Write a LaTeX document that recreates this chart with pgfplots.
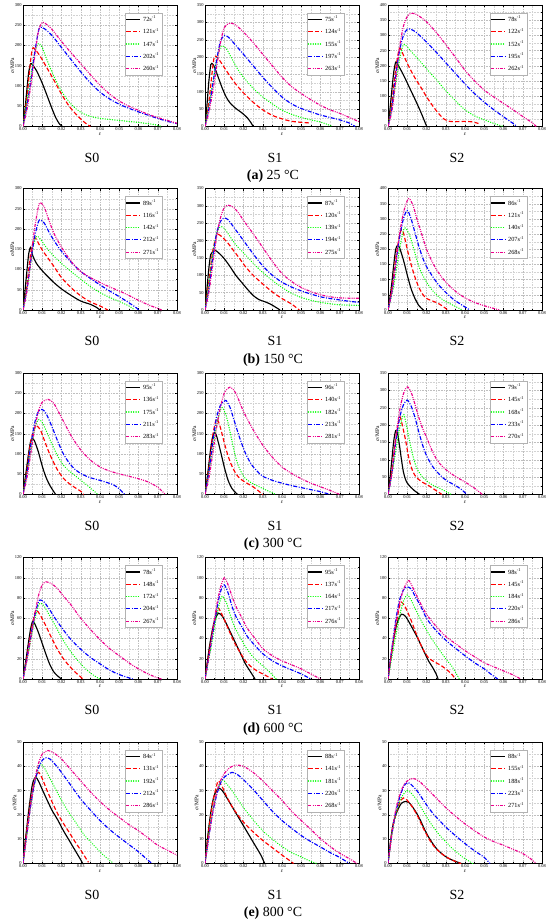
\documentclass[border=0pt]{standalone}
\usepackage{fontspec}
\setmainfont{Liberation Serif}
\usepackage{pgfplots}
\pgfplotsset{compat=1.18}
\pgfplotsset{
 c1/.style={color=black, solid, line width=1.15bp},
 c2/.style={color=red, line width=1.15bp, dash pattern=on 4.2bp off 2.3bp},
 c3/.style={color=green, line width=1.45bp, line cap=round, dash pattern=on 0.01bp off 2.4bp},
 c4/.style={color=blue, line width=1.15bp, dash pattern=on 4bp off 1.5bp on 1bp off 1.5bp},
 c5/.style={color=magenta, line width=1.15bp, dash pattern=on 3bp off 1.2bp on 0.9bp off 1.2bp on 0.9bp off 1.2bp},
 panel/.style={
  scale only axis, width=154bp, height=121.5bp, anchor=north west,
  xmin=0, xmax=0.08, ymin=0, xtick distance=0.01, minor tick num=1,
  scaled x ticks=false, scaled y ticks=false,
  x tick label style={/pgf/number format/.cd, fixed, fixed zerofill, precision=2, /tikz/.cd},
  /pgf/number format/assume math mode=true,
  tick label style={font=\fontsize{4.5}{5}\selectfont, inner sep=1.2bp},
  tick align=inside, major tick length=2bp, minor tick length=1.2bp,
  every tick/.style={black, line width=0.3bp},
  grid=both,
  major grid style={gray!50, line width=0.3bp, dash pattern=on 0.8bp off 0.8bp},
  minor grid style={gray!35, line width=0.25bp, dash pattern=on 0.8bp off 0.8bp},
  axis line style={line width=0.5bp},
  xlabel={\textit{ε}}, ylabel={\textit{σ}/MPa},
  label style={font=\fontsize{5.5}{6}\selectfont},
  xlabel style={inner sep=0.5bp},
  ylabel style={yshift=-4bp},
  legend style={at={(0.905,0.935)}, anchor=north east, draw=gray!60,
    font=\fontsize{6.3}{7}\selectfont, inner sep=1bp, row sep=1.4bp},
  legend cell align=left,
  legend image code/.code={\draw[##1, draw=.] (0bp,0bp) -- (14bp,0bp);},
  every axis plot/.append style={smooth, tension=0.45},
 },
}
\newcommand{\leg}[5]{\legend{#1s\textsuperscript{-1},#2s\textsuperscript{-1},#3s\textsuperscript{-1},#4s\textsuperscript{-1},#5s\textsuperscript{-1}}}
\begin{document}
\begin{tikzpicture}
\path[use as bounding box] (0,0) rectangle (550bp,-921bp);
%================ ROW 1 : 25 C =================
\begin{axis}[panel, at={(23bp,-5bp)}, ymax=300, ytick distance=50]
\addplot[c1] coordinates {(0,0)(0.001,40)(0.002,90)(0.003,135)(0.004,155)(0.005,152)(0.007,138)(0.009,118)(0.011,95)(0.013,70)(0.015,45)(0.017,22)(0.019,6)(0.0205,0)};
\addplot[c2] coordinates {(0,0)(0.002,70)(0.004,165)(0.005,193)(0.006,192)(0.008,180)(0.010,165)(0.013,140)(0.016,115)(0.020,80)(0.024,50)(0.028,28)(0.032,10)(0.035,0)};
\addplot[c3] coordinates {(0,0)(0.003,90)(0.006,180)(0.008,205)(0.010,195)(0.012,170)(0.015,135)(0.018,105)(0.021,80)(0.025,55)(0.030,35)(0.035,25)(0.040,20)(0.050,15)(0.060,10)(0.068,5)(0.072,0)};
\addplot[c4] coordinates {(0,0)(0.002,50)(0.004,110)(0.006,180)(0.008,235)(0.009,245)(0.011,242)(0.015,225)(0.020,195)(0.025,165)(0.030,135)(0.035,108)(0.040,85)(0.045,68)(0.050,55)(0.055,45)(0.060,36)(0.065,28)(0.070,20)(0.075,13)(0.080,7)};
\addplot[c5] coordinates {(0,0)(0.002,40)(0.004,100)(0.006,170)(0.008,235)(0.010,257)(0.012,253)(0.015,240)(0.020,210)(0.025,182)(0.030,155)(0.035,128)(0.040,102)(0.045,80)(0.050,63)(0.055,50)(0.060,40)(0.065,30)(0.070,22)(0.075,15)(0.080,8)};
\leg{72}{121}{147}{202}{260}
\end{axis}
\begin{axis}[panel, at={(205bp,-5bp)}, ymax=350, ytick distance=50]
\addplot[c1] coordinates {(0,0)(0.001,60)(0.002,130)(0.003,178)(0.004,180)(0.005,170)(0.007,140)(0.009,110)(0.011,85)(0.013,68)(0.016,52)(0.019,40)(0.022,25)(0.024,10)(0.025,0)};
\addplot[c2] coordinates {(0,0)(0.002,70)(0.004,170)(0.005,203)(0.007,195)(0.010,170)(0.013,145)(0.016,122)(0.020,97)(0.025,70)(0.030,48)(0.035,32)(0.040,22)(0.045,15)(0.050,12)(0.055,10)};
\addplot[c3] coordinates {(0,0)(0.003,90)(0.006,190)(0.008,228)(0.009,232)(0.011,225)(0.014,195)(0.017,165)(0.020,142)(0.025,110)(0.030,85)(0.035,65)(0.040,47)(0.045,35)(0.050,26)(0.055,19)(0.060,13)(0.065,3)(0.066,0)};
\addplot[c4] coordinates {(0,0)(0.002,50)(0.004,120)(0.006,190)(0.008,245)(0.010,262)(0.012,258)(0.015,240)(0.020,208)(0.025,175)(0.030,142)(0.035,112)(0.040,85)(0.045,65)(0.050,52)(0.055,42)(0.060,33)(0.065,26)(0.070,19)(0.075,10)(0.078,0)};
\addplot[c5] coordinates {(0,0)(0.002,40)(0.004,100)(0.006,170)(0.008,240)(0.010,285)(0.013,298)(0.016,292)(0.020,272)(0.025,242)(0.030,208)(0.035,175)(0.040,142)(0.045,115)(0.050,95)(0.055,77)(0.060,61)(0.065,48)(0.070,38)(0.075,26)(0.080,14)};
\leg{75}{124}{155}{197}{263}
\end{axis}
\begin{axis}[panel, at={(388bp,-5bp)}, ymax=400, ytick distance=50]
\addplot[c1] coordinates {(0,0)(0.001,55)(0.002,120)(0.003,180)(0.004,212)(0.005,205)(0.008,170)(0.011,130)(0.014,90)(0.017,48)(0.020,2)(0.0202,0)};
\addplot[c2] coordinates {(0,0)(0.002,80)(0.004,190)(0.006,258)(0.008,235)(0.011,195)(0.014,160)(0.017,130)(0.020,98)(0.023,70)(0.026,45)(0.029,25)(0.032,17)(0.036,16)(0.040,17)(0.044,15)(0.047,10)};
\addplot[c3] coordinates {(0,0)(0.003,100)(0.006,220)(0.008,270)(0.010,262)(0.013,240)(0.016,220)(0.020,190)(0.025,155)(0.030,118)(0.035,85)(0.040,55)(0.045,35)(0.050,22)(0.055,10)(0.060,0)};
\addplot[c4] coordinates {(0,0)(0.002,60)(0.004,170)(0.006,250)(0.008,300)(0.010,320)(0.012,320)(0.015,308)(0.020,278)(0.025,245)(0.030,210)(0.035,175)(0.040,140)(0.045,108)(0.050,80)(0.055,55)(0.060,32)(0.065,10)(0.067,0)};
\addplot[c5] coordinates {(0,0)(0.002,50)(0.004,150)(0.006,260)(0.008,330)(0.010,362)(0.012,373)(0.015,368)(0.020,345)(0.025,310)(0.030,270)(0.035,228)(0.040,185)(0.045,150)(0.050,120)(0.055,97)(0.060,76)(0.065,55)(0.070,33)(0.075,12)(0.077,0)};
\leg{78}{122}{152}{195}{262}
\end{axis}
%================ ROW 2 : 150 C =================
\begin{axis}[panel, at={(23bp,-188.5bp)}, ymax=300, ytick distance=50]
\addplot[c1] coordinates {(0,0)(0.001,45)(0.002,95)(0.003,140)(0.004,155)(0.005,135)(0.007,115)(0.010,97)(0.013,82)(0.016,68)(0.020,52)(0.025,36)(0.030,22)(0.035,14)(0.038,7)(0.040,0)};
\addplot[c2] coordinates {(0,0)(0.002,60)(0.004,140)(0.006,178)(0.008,165)(0.010,148)(0.013,128)(0.016,108)(0.020,80)(0.025,55)(0.030,35)(0.035,20)(0.040,10)(0.044,0)};
\addplot[c3] coordinates {(0,0)(0.003,80)(0.005,150)(0.007,182)(0.009,175)(0.012,155)(0.015,138)(0.020,115)(0.025,95)(0.030,76)(0.035,58)(0.040,43)(0.045,31)(0.050,21)(0.055,10)(0.058,0)};
\addplot[c4] coordinates {(0,0)(0.002,50)(0.004,120)(0.006,180)(0.008,218)(0.009,222)(0.011,215)(0.014,188)(0.017,165)(0.020,145)(0.025,118)(0.030,95)(0.035,78)(0.040,62)(0.045,47)(0.050,33)(0.055,18)(0.059,5)(0.060,0)};
\addplot[c5] coordinates {(0,0)(0.002,45)(0.004,120)(0.006,200)(0.008,255)(0.009,265)(0.011,255)(0.013,228)(0.016,190)(0.020,155)(0.025,120)(0.030,95)(0.035,80)(0.040,68)(0.045,57)(0.050,47)(0.055,36)(0.060,24)(0.065,13)(0.070,4)(0.072,0)};
\leg{89}{116}{142}{212}{271}
\end{axis}
\begin{axis}[panel, at={(205bp,-188.5bp)}, ymax=350, ytick distance=50]
\addplot[c1] coordinates {(0,0)(0.001,60)(0.002,120)(0.003,160)(0.005,172)(0.007,165)(0.010,148)(0.013,125)(0.016,100)(0.019,80)(0.022,60)(0.025,42)(0.028,30)(0.031,24)(0.034,17)(0.037,7)(0.039,0)};
\addplot[c2] coordinates {(0,0)(0.002,80)(0.004,170)(0.006,215)(0.007,218)(0.009,210)(0.012,192)(0.015,170)(0.018,148)(0.021,125)(0.025,100)(0.030,75)(0.035,52)(0.040,33)(0.045,17)(0.049,0)};
\addplot[c3] coordinates {(0,0)(0.002,70)(0.004,160)(0.006,220)(0.008,240)(0.010,235)(0.013,212)(0.016,188)(0.020,165)(0.025,135)(0.030,108)(0.035,85)(0.040,65)(0.045,48)(0.050,36)(0.055,28)(0.060,22)(0.065,18)(0.070,15)(0.075,14)(0.080,13)};
\addplot[c4] coordinates {(0,0)(0.002,60)(0.004,150)(0.006,220)(0.008,255)(0.010,265)(0.012,260)(0.015,238)(0.020,200)(0.025,162)(0.030,127)(0.035,100)(0.040,80)(0.045,66)(0.050,55)(0.055,46)(0.060,38)(0.065,33)(0.070,29)(0.075,25)(0.080,22)};
\addplot[c5] coordinates {(0,0)(0.002,50)(0.004,130)(0.006,210)(0.008,265)(0.010,295)(0.012,302)(0.015,295)(0.018,275)(0.020,258)(0.025,220)(0.030,180)(0.035,140)(0.040,105)(0.045,82)(0.050,65)(0.055,53)(0.060,44)(0.065,38)(0.070,35)(0.075,34)(0.080,34)};
\leg{87}{120}{139}{194}{275}
\end{axis}
\begin{axis}[panel, at={(388bp,-188.5bp)}, ymax=400, ytick distance=50]
\addplot[c1] coordinates {(0,0)(0.001,40)(0.002,90)(0.003,150)(0.004,200)(0.005,213)(0.006,205)(0.008,165)(0.010,115)(0.012,70)(0.014,38)(0.016,15)(0.018,2)(0.0185,0)};
\addplot[c2] coordinates {(0,0)(0.002,70)(0.004,170)(0.006,245)(0.007,265)(0.008,255)(0.010,200)(0.012,150)(0.014,108)(0.016,75)(0.018,52)(0.020,38)(0.023,30)(0.026,22)(0.029,10)(0.031,0)};
\addplot[c3] coordinates {(0,0)(0.003,80)(0.006,200)(0.008,262)(0.009,270)(0.011,250)(0.013,210)(0.015,165)(0.017,128)(0.020,92)(0.023,65)(0.026,45)(0.030,28)(0.034,15)(0.038,2)(0.039,0)};
\addplot[c4] coordinates {(0,0)(0.002,60)(0.004,150)(0.006,240)(0.008,300)(0.010,328)(0.012,300)(0.014,255)(0.016,210)(0.018,172)(0.020,143)(0.023,112)(0.026,85)(0.030,58)(0.034,35)(0.038,18)(0.042,2)(0.0425,0)};
\addplot[c5] coordinates {(0,0)(0.002,60)(0.004,150)(0.006,250)(0.008,320)(0.010,360)(0.011,367)(0.013,345)(0.015,300)(0.018,240)(0.020,200)(0.023,158)(0.026,125)(0.030,92)(0.035,62)(0.040,40)(0.045,25)(0.050,14)(0.055,5)(0.058,0)};
\leg{86}{121}{140}{207}{268}
\end{axis}
%================ ROW 3 : 300 C =================
\begin{axis}[panel, at={(23bp,-373bp)}, ymax=300, ytick distance=50]
\addplot[c1] coordinates {(0,0)(0.001,35)(0.002,70)(0.003,105)(0.004,132)(0.005,138)(0.006,132)(0.008,105)(0.010,70)(0.012,42)(0.014,22)(0.016,7)(0.017,0)};
\addplot[c2] coordinates {(0,0)(0.002,60)(0.004,130)(0.006,165)(0.007,170)(0.009,160)(0.011,135)(0.013,110)(0.015,88)(0.018,60)(0.021,40)(0.024,27)(0.027,17)(0.030,8)(0.0315,0)};
\addplot[c3] coordinates {(0,0)(0.003,80)(0.006,160)(0.008,185)(0.010,178)(0.012,158)(0.015,125)(0.018,95)(0.021,72)(0.024,58)(0.027,47)(0.030,35)(0.033,24)(0.036,12)(0.039,0)};
\addplot[c4] coordinates {(0,0)(0.002,50)(0.004,120)(0.006,175)(0.008,205)(0.010,210)(0.012,200)(0.015,168)(0.018,132)(0.021,100)(0.024,78)(0.027,62)(0.030,52)(0.033,45)(0.036,40)(0.040,35)(0.044,29)(0.047,24)(0.050,14)(0.052,4)(0.053,0)};
\addplot[c5] coordinates {(0,0)(0.002,40)(0.004,100)(0.006,160)(0.008,205)(0.010,228)(0.013,235)(0.016,225)(0.020,190)(0.025,145)(0.030,110)(0.035,85)(0.040,68)(0.045,58)(0.050,51)(0.055,45)(0.060,39)(0.065,31)(0.070,18)(0.074,0)};
\leg{95}{136}{175}{211}{283}
\end{axis}
\begin{axis}[panel, at={(205bp,-373bp)}, ymax=300, ytick distance=50]
\addplot[c1] coordinates {(0,0)(0.001,35)(0.002,75)(0.003,115)(0.004,143)(0.005,153)(0.006,145)(0.008,108)(0.010,68)(0.012,35)(0.014,15)(0.016,4)(0.017,0)};
\addplot[c2] coordinates {(0,0)(0.002,65)(0.004,145)(0.006,187)(0.008,165)(0.010,128)(0.012,95)(0.014,70)(0.016,52)(0.018,40)(0.021,30)(0.024,22)(0.027,12)(0.030,0)};
\addplot[c3] coordinates {(0,0)(0.003,85)(0.006,170)(0.008,208)(0.009,215)(0.011,195)(0.013,155)(0.015,110)(0.017,75)(0.020,45)(0.023,32)(0.026,24)(0.030,15)(0.034,6)(0.037,0)};
\addplot[c4] coordinates {(0,0)(0.002,55)(0.004,130)(0.006,190)(0.008,220)(0.010,230)(0.011,232)(0.013,215)(0.015,185)(0.018,140)(0.021,102)(0.024,75)(0.027,58)(0.030,45)(0.035,35)(0.040,28)(0.045,22)(0.050,17)(0.055,12)(0.060,7)(0.065,0)};
\addplot[c5] coordinates {(0,0)(0.002,40)(0.004,100)(0.006,165)(0.008,215)(0.010,250)(0.013,265)(0.016,250)(0.020,205)(0.025,160)(0.030,122)(0.035,92)(0.040,68)(0.045,52)(0.050,39)(0.055,28)(0.060,19)(0.065,10)(0.070,0)};
\leg{96}{140}{182}{213}{281}
\end{axis}
\begin{axis}[panel, at={(388bp,-373bp)}, ymax=350, ytick distance=50]
\addplot[c1] coordinates {(0,0)(0.001,45)(0.002,100)(0.003,155)(0.004,184)(0.005,175)(0.006,140)(0.007,100)(0.008,65)(0.009,45)(0.010,33)(0.012,20)(0.014,10)(0.016,2)(0.0165,0)};
\addplot[c2] coordinates {(0,0)(0.002,70)(0.004,160)(0.006,222)(0.007,210)(0.009,160)(0.011,100)(0.013,65)(0.015,48)(0.018,35)(0.021,26)(0.024,15)(0.027,4)(0.028,0)};
\addplot[c3] coordinates {(0,0)(0.003,90)(0.006,190)(0.008,230)(0.009,215)(0.011,160)(0.013,110)(0.015,75)(0.018,50)(0.021,35)(0.024,25)(0.027,17)(0.030,9)(0.033,0)};
\addplot[c4] coordinates {(0,0)(0.002,60)(0.004,150)(0.006,220)(0.008,258)(0.010,272)(0.012,255)(0.014,222)(0.016,180)(0.018,142)(0.020,112)(0.023,82)(0.026,62)(0.029,46)(0.032,35)(0.035,26)(0.038,15)(0.041,0)};
\addplot[c5] coordinates {(0,0)(0.002,60)(0.004,160)(0.006,240)(0.008,290)(0.010,310)(0.012,295)(0.014,260)(0.016,222)(0.018,190)(0.020,165)(0.023,125)(0.026,95)(0.030,72)(0.035,52)(0.040,36)(0.045,18)(0.049,0)};
\leg{79}{145}{168}{233}{270}
\end{axis}
%================ ROW 4 : 600 C =================
\begin{axis}[panel, at={(23bp,-557.5bp)}, ymax=120, ytick distance=20]
\addplot[c1] coordinates {(0,0)(0.001,12)(0.002,25)(0.003,38)(0.004,50)(0.005,57)(0.006,55)(0.008,46)(0.010,35)(0.012,24)(0.014,14)(0.016,7)(0.018,3)(0.020,0)};
\addplot[c2] coordinates {(0,0)(0.002,22)(0.004,45)(0.006,64)(0.007,68)(0.009,63)(0.012,52)(0.015,40)(0.018,29)(0.021,20)(0.024,13)(0.027,7)(0.030,2)(0.031,0)};
\addplot[c3] coordinates {(0,0)(0.003,28)(0.006,58)(0.008,72)(0.009,75)(0.011,72)(0.014,62)(0.017,52)(0.020,41)(0.023,32)(0.026,24)(0.029,17)(0.032,11)(0.035,6)(0.038,2)(0.040,0)};
\addplot[c4] coordinates {(0,0)(0.002,20)(0.004,42)(0.006,62)(0.008,76)(0.009,78)(0.011,76)(0.014,68)(0.017,59)(0.020,51)(0.024,41)(0.028,33)(0.032,26)(0.036,20)(0.040,15)(0.044,10)(0.048,6)(0.052,3)(0.057,0)};
\addplot[c5] coordinates {(0,0)(0.002,18)(0.004,40)(0.006,62)(0.008,82)(0.010,93)(0.012,96)(0.015,94)(0.018,89)(0.021,82)(0.025,73)(0.030,60)(0.035,49)(0.040,39)(0.045,30)(0.050,23)(0.055,16)(0.060,10)(0.065,5)(0.070,1)(0.072,0)};
\leg{78}{148}{172}{204}{267}
\end{axis}
\begin{axis}[panel, at={(205bp,-557.5bp)}, ymax=120, ytick distance=20]
\addplot[c1] coordinates {(0,0)(0.001,14)(0.002,28)(0.003,40)(0.004,50)(0.005,58)(0.007,65)(0.009,62)(0.011,55)(0.013,47)(0.015,39)(0.017,31)(0.019,23)(0.021,15)(0.023,9)(0.025,3)(0.026,0)};
\addplot[c2] coordinates {(0,0)(0.002,25)(0.004,48)(0.006,66)(0.007,70)(0.009,63)(0.012,50)(0.015,37)(0.018,27)(0.021,18)(0.024,12)(0.027,8)(0.030,5)(0.033,2)(0.035,0)};
\addplot[c3] coordinates {(0,0)(0.003,30)(0.006,62)(0.008,78)(0.009,82)(0.011,76)(0.013,64)(0.015,53)(0.018,42)(0.021,32)(0.024,24)(0.027,18)(0.030,13)(0.033,8)(0.036,2)(0.037,0)};
\addplot[c4] coordinates {(0,0)(0.002,22)(0.004,45)(0.006,68)(0.008,86)(0.010,93)(0.012,85)(0.014,72)(0.016,62)(0.019,52)(0.022,42)(0.026,33)(0.030,25)(0.035,18)(0.040,13)(0.045,9)(0.050,5)(0.055,0)};
\addplot[c5] coordinates {(0,0)(0.002,22)(0.004,48)(0.006,72)(0.008,90)(0.010,100)(0.012,93)(0.014,82)(0.016,72)(0.019,61)(0.022,50)(0.026,40)(0.030,30)(0.035,23)(0.040,18)(0.045,14)(0.050,10)(0.055,5)(0.060,0)};
\leg{95}{137}{164}{217}{276}
\end{axis}
\begin{axis}[panel, at={(388bp,-557.5bp)}, ymax=120, ytick distance=20]
\addplot[c1] coordinates {(0,0)(0.001,14)(0.002,28)(0.003,40)(0.004,50)(0.005,57)(0.007,64)(0.009,62)(0.011,56)(0.013,49)(0.015,42)(0.017,34)(0.019,26)(0.021,18)(0.023,12)(0.025,5)(0.026,0)};
\addplot[c2] coordinates {(0,0)(0.002,28)(0.004,52)(0.006,72)(0.007,76)(0.009,71)(0.012,58)(0.015,43)(0.018,30)(0.021,21)(0.024,17)(0.027,14)(0.030,10)(0.033,5)(0.035,0)};
\addplot[c3] coordinates {(0,0)(0.003,32)(0.006,62)(0.008,77)(0.010,83)(0.012,78)(0.015,66)(0.018,55)(0.021,45)(0.024,36)(0.027,28)(0.030,20)(0.033,13)(0.035,7)(0.037,0)};
\addplot[c4] coordinates {(0,0)(0.002,30)(0.004,58)(0.006,78)(0.008,88)(0.010,91)(0.012,89)(0.014,82)(0.017,72)(0.020,60)(0.024,50)(0.028,42)(0.032,35)(0.036,29)(0.040,23)(0.045,16)(0.050,10)(0.054,4)(0.057,0)};
\addplot[c5] coordinates {(0,0)(0.002,28)(0.004,55)(0.006,75)(0.008,88)(0.010,96)(0.011,97)(0.013,90)(0.016,78)(0.020,64)(0.025,52)(0.030,42)(0.035,35)(0.040,28)(0.045,22)(0.050,16)(0.055,12)(0.060,8)(0.065,4)(0.069,0)};
\leg{98}{145}{184}{220}{286}
\end{axis}
%================ ROW 5 : 800 C =================
\begin{axis}[panel, at={(23bp,-742bp)}, ymax=50, ytick distance=10]
\addplot[c1] coordinates {(0,0)(0.001,8)(0.002,15)(0.003,22)(0.004,28)(0.005,33)(0.0065,35.5)(0.008,34)(0.010,30.5)(0.012,27)(0.015,22)(0.018,18)(0.021,13.5)(0.024,9.5)(0.027,5.5)(0.030,1.5)(0.031,0)};
\addplot[c2] coordinates {(0,0)(0.002,14)(0.004,26)(0.006,34)(0.008,37.5)(0.010,35)(0.012,31)(0.015,25.5)(0.018,20.5)(0.021,16.5)(0.024,12.8)(0.027,9)(0.030,5.5)(0.032,3)(0.034,0.5)};
\addplot[c3] coordinates {(0,0)(0.002,12)(0.004,24)(0.006,33)(0.008,39.5)(0.009,41)(0.011,39.5)(0.014,35)(0.017,30.5)(0.020,26)(0.023,22)(0.026,18.5)(0.029,15)(0.032,11.5)(0.035,9)(0.038,6.5)(0.041,4)(0.044,2)(0.047,0)};
\addplot[c4] coordinates {(0,0)(0.002,12)(0.004,24)(0.006,33)(0.008,39)(0.010,42.5)(0.012,43.5)(0.014,43)(0.017,40.5)(0.020,37.5)(0.025,32)(0.030,26.5)(0.035,22)(0.040,17.7)(0.045,14)(0.050,10.8)(0.055,7.8)(0.060,4.8)(0.064,2)(0.067,0)};
\addplot[c5] coordinates {(0,0)(0.002,12)(0.004,24)(0.006,34)(0.008,41)(0.010,45)(0.013,46.5)(0.016,45.5)(0.020,43)(0.025,38.5)(0.030,34)(0.035,29.5)(0.040,25.5)(0.045,22)(0.050,19)(0.055,16)(0.060,13.5)(0.065,10.5)(0.070,7.5)(0.075,5.5)(0.080,3.4)};
\leg{84}{131}{192}{212}{286}
\end{axis}
\begin{axis}[panel, at={(205bp,-742bp)}, ymax=50, ytick distance=10]
\addplot[c1] coordinates {(0,0)(0.001,8)(0.002,15)(0.003,21)(0.004,25.5)(0.005,28.5)(0.007,31)(0.009,30)(0.011,27.5)(0.014,23.5)(0.017,19.5)(0.020,15.5)(0.023,11.5)(0.026,7.5)(0.029,3.5)(0.031,0)};
\addplot[c2] coordinates {(0,0)(0.002,14)(0.004,25)(0.006,32)(0.007,34)(0.009,31.5)(0.011,28)(0.014,23.5)(0.017,20)(0.020,17)(0.025,13)(0.030,9.5)(0.035,6.5)(0.040,3.5)(0.044,1.2)(0.046,0)};
\addplot[c3] coordinates {(0,0)(0.002,12)(0.004,22)(0.006,29)(0.008,33.5)(0.009,34.5)(0.011,33)(0.014,30)(0.017,26.5)(0.020,23)(0.025,18)(0.030,13.5)(0.035,10)(0.040,7)(0.045,4.5)(0.050,2.7)(0.054,1.2)(0.058,0)};
\addplot[c4] coordinates {(0,0)(0.002,11)(0.004,21)(0.006,28)(0.008,33)(0.010,35.5)(0.014,37.5)(0.017,36.5)(0.020,34.5)(0.025,30.5)(0.030,26)(0.035,21.5)(0.040,17.7)(0.045,14.5)(0.050,11.5)(0.055,9)(0.060,6.8)(0.065,4.5)(0.070,2.5)(0.075,0)};
\addplot[c5] coordinates {(0,0)(0.002,11)(0.004,21)(0.006,29)(0.008,34)(0.010,37)(0.013,39.5)(0.016,40.5)(0.020,40)(0.025,37.5)(0.030,34)(0.035,30)(0.040,26)(0.045,21.5)(0.050,17.7)(0.055,14)(0.060,10.2)(0.065,7)(0.070,4.2)(0.075,2)(0.079,0)};
\leg{88}{141}{181}{220}{268}
\end{axis}
\begin{axis}[panel, at={(388bp,-742bp)}, ymax=50, ytick distance=10]
\addplot[c1] coordinates {(0,0)(0.001,7)(0.002,13)(0.003,17.5)(0.005,22)(0.007,24.8)(0.009,25.5)(0.011,25)(0.013,23)(0.015,20.5)(0.017,17.5)(0.019,14)(0.021,11)(0.023,8.5)(0.025,6.3)(0.028,4)(0.031,2.3)(0.034,1.2)(0.038,0)};
\addplot[c2] coordinates {(0,0)(0.002,13)(0.004,20)(0.006,25)(0.008,27)(0.010,26)(0.012,24)(0.014,21.5)(0.016,18.5)(0.018,15)(0.020,12)(0.022,9.2)(0.024,7)(0.027,4.6)(0.030,2.8)(0.033,1.6)(0.036,0.5)(0.038,0)};
\addplot[c3] coordinates {(0,0)(0.002,12)(0.004,20)(0.006,25.5)(0.008,28.5)(0.010,30)(0.012,29)(0.015,26)(0.018,22)(0.021,18)(0.024,14.5)(0.027,11.5)(0.030,9)(0.033,6.5)(0.036,4.5)(0.039,2.5)(0.042,1)(0.044,0)};
\addplot[c4] coordinates {(0,0)(0.002,12)(0.004,21)(0.006,27)(0.008,31.5)(0.010,33.3)(0.012,32.5)(0.015,30)(0.018,26.5)(0.021,23)(0.024,20)(0.027,17.5)(0.030,15)(0.035,11.5)(0.040,8.2)(0.045,5.2)(0.050,2.5)(0.053,0)};
\addplot[c5] coordinates {(0,0)(0.002,12)(0.004,22)(0.006,28)(0.008,32)(0.010,34)(0.013,35)(0.016,34)(0.020,31)(0.025,27)(0.030,23)(0.035,19.5)(0.040,16.3)(0.045,13.5)(0.050,10.9)(0.055,9)(0.060,7.5)(0.065,5.8)(0.070,4.1)(0.074,2)(0.077,0)};
\leg{88}{155}{188}{223}{271}
\end{axis}
%================ LABELS =================
\begin{scope}[every node/.style={font=\fontsize{14}{14}\selectfont, inner sep=0pt}]
\foreach \yb/\cap in {126.5/{\textbf{(a)} 25 °C}, 310/{\textbf{(b)} 150 °C}, 494.5/{\textbf{(c)} 300 °C}, 679/{\textbf{(d)} 600 °C}, 863.5/{\textbf{(e)} 800 °C}} {
  \node at (92bp,-\yb bp-31bp) {S0};
  \node at (275bp,-\yb bp-31bp) {S1};
  \node at (457bp,-\yb bp-31bp) {S2};
  \node at (273bp,-\yb bp-50bp) {\cap};
}
\end{scope}
\end{tikzpicture}
\end{document}
